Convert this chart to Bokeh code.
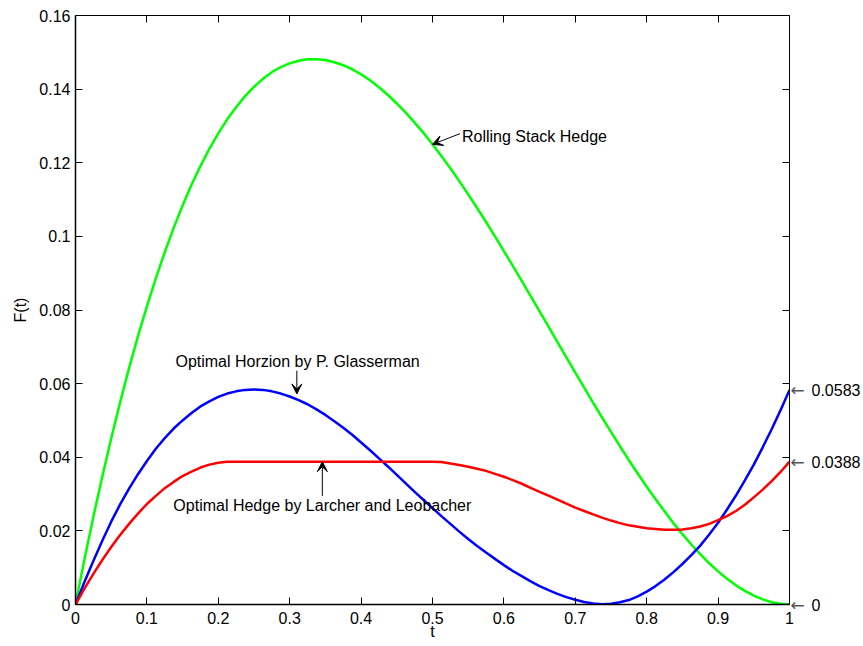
from bokeh.plotting import figure
from bokeh.models import LinearAxis, FixedTicker, Range1d, Label, Arrow, VeeHead
from bokeh.embed import file_html
from bokeh.resources import INLINE

# time grid
t = [0.0, 0.0125, 0.025, 0.0375, 0.05, 0.0625, 0.075, 0.0875, 0.1, 0.1125,
     0.125, 0.1375, 0.15, 0.1625, 0.175, 0.1875, 0.2, 0.2125, 0.225, 0.2375,
     0.25, 0.2625, 0.275, 0.2875, 0.3, 0.3125, 0.325, 0.3375, 0.35, 0.3625,
     0.375, 0.3875, 0.4, 0.4125, 0.425, 0.4375, 0.45, 0.4625, 0.475, 0.4875,
     0.5, 0.5125, 0.525, 0.5375, 0.55, 0.5625, 0.575, 0.5875, 0.6, 0.6125,
     0.625, 0.6375, 0.65, 0.6625, 0.675, 0.6875, 0.7, 0.7125, 0.725, 0.7375,
     0.75, 0.7625, 0.775, 0.7875, 0.8, 0.8125, 0.825, 0.8375, 0.85, 0.8625,
     0.875, 0.8875, 0.9, 0.9125, 0.925, 0.9375, 0.95, 0.9625, 0.975, 0.9875, 1.0]

# Rolling stack hedge
rolling = [0.0, 0.0122, 0.0238, 0.0347, 0.0451, 0.0549, 0.0642, 0.0729, 0.0810, 0.0886,
           0.0957, 0.1023, 0.1084, 0.1140, 0.1191, 0.1238, 0.1280, 0.1318, 0.1351, 0.1381,
           0.1406, 0.1428, 0.1446, 0.1460, 0.1470, 0.1477, 0.1481, 0.1481, 0.1479, 0.1473,
           0.1465, 0.1454, 0.1440, 0.1424, 0.1405, 0.1384, 0.1361, 0.1336, 0.1309, 0.1281,
           0.1250, 0.1218, 0.1185, 0.1150, 0.1114, 0.1077, 0.1039, 0.1000, 0.0960, 0.0920,
           0.0879, 0.0838, 0.0796, 0.0755, 0.0713, 0.0671, 0.0630, 0.0589, 0.0548, 0.0508,
           0.0469, 0.0430, 0.0392, 0.0356, 0.0320, 0.0286, 0.0253, 0.0221, 0.0191, 0.0163,
           0.0137, 0.0112, 0.0090, 0.0070, 0.0052, 0.0037, 0.0024, 0.0014, 0.0006, 0.0002, 0.0]

# Optimal horizon (Glasserman)
glasserman = [0.0, 0.0061, 0.0118, 0.0173, 0.0225, 0.0272, 0.0315, 0.0354, 0.0390, 0.0423,
              0.0452, 0.0478, 0.0500, 0.0520, 0.0538, 0.0552, 0.0564, 0.0573, 0.0579, 0.0583,
              0.0584, 0.0583, 0.0579, 0.0573, 0.0565, 0.0555, 0.0544, 0.0530, 0.0515, 0.0498,
              0.0480, 0.0461, 0.0440, 0.0419, 0.0397, 0.0375, 0.0352, 0.0329, 0.0306, 0.0284,
              0.0262, 0.0240, 0.0219, 0.0198, 0.0178, 0.0159, 0.0141, 0.0124, 0.0107, 0.0091,
              0.0077, 0.0063, 0.0050, 0.0039, 0.0029, 0.0020, 0.0013, 0.0007, 0.0003, 0.0001,
              0.0002, 0.0006, 0.0012, 0.0022, 0.0035, 0.0050, 0.0068, 0.0088, 0.0110, 0.0134,
              0.0160, 0.0190, 0.0222, 0.0258, 0.0296, 0.0337, 0.0380, 0.0427, 0.0476, 0.0528, 0.0583]

# Optimal hedge (Larcher and Leobacher)
larcher = [0.0, 0.0043, 0.0083, 0.0121, 0.0156, 0.0189, 0.0219, 0.0247, 0.0273, 0.0295,
           0.0316, 0.0333, 0.0349, 0.0361, 0.0372, 0.0380, 0.0385, 0.0388, 0.0388, 0.0388,
           0.0388, 0.0388, 0.0388, 0.0388, 0.0388, 0.0388, 0.0388, 0.0388, 0.0388, 0.0388,
           0.0388, 0.0388, 0.0388, 0.0388, 0.0388, 0.0388, 0.0388, 0.0388, 0.0388, 0.0388,
           0.0388, 0.0387, 0.0383, 0.0379, 0.0374, 0.0369, 0.0363, 0.0355, 0.0347, 0.0338,
           0.0328, 0.0317, 0.0306, 0.0296, 0.0285, 0.0274, 0.0263, 0.0254, 0.0245, 0.0236,
           0.0228, 0.0221, 0.0215, 0.0211, 0.0207, 0.0205, 0.0203, 0.0203, 0.0204, 0.0207,
           0.0212, 0.0219, 0.0229, 0.0240, 0.0254, 0.0271, 0.0291, 0.0312, 0.0335, 0.0360, 0.0388]

x_ticks = [0.0, 0.1, 0.2, 0.3, 0.4, 0.5, 0.6, 0.7, 0.8, 0.9, 1.0]
x_tick_labels = ["0", "0.1", "0.2", "0.3", "0.4", "0.5", "0.6", "0.7", "0.8", "0.9", "1"]
y_ticks = [0.0, 0.02, 0.04, 0.06, 0.08, 0.1, 0.12, 0.14, 0.16]
y_tick_labels = ["0", "0.02", "0.04", "0.06", "0.08", "0.1", "0.12", "0.14", "0.16"]

FONT = "Liberation Sans"
FS = "16px"

p = figure(width=863, height=646, output_backend="svg", toolbar_location=None,
           x_range=Range1d(0, 1), y_range=Range1d(0, 0.16),
           min_border_left=75, min_border_right=73, min_border_top=15, min_border_bottom=42,
           x_axis_label="t", y_axis_label="F(t)")
p.grid.visible = False
p.outline_line_color = None
p.background_fill_color = "white"
p.border_fill_color = "white"


def base_style(ax):
    ax.major_tick_out = 0
    ax.minor_tick_out = 0
    ax.axis_line_color = "black"
    ax.major_tick_line_color = "black"
    ax.minor_tick_line_color = "black"
    ax.major_label_text_font = FONT
    ax.major_label_text_font_size = FS
    ax.major_label_text_color = "black"
    ax.axis_label_text_font = FONT
    ax.axis_label_text_font_size = FS
    ax.axis_label_text_font_style = "normal"
    ax.axis_label_text_color = "black"


# bottom and left: labelled axes with inward ticks
for ax, ticks, labels in ((p.below[0], x_ticks, x_tick_labels), (p.left[0], y_ticks, y_tick_labels)):
    base_style(ax)
    ax.ticker = FixedTicker(ticks=ticks)
    ax.major_label_overrides = dict(zip(ticks, labels))
    ax.major_tick_in = 7
    ax.minor_tick_in = 0
    ax.axis_line_width = 1.5

p.below[0].major_label_standoff = 7
p.below[0].axis_label_standoff = -4
p.left[0].major_label_standoff = 5
p.left[0].axis_label_standoff = 7

# top: box edge with tick marks only
top = LinearAxis(ticker=FixedTicker(ticks=[], minor_ticks=x_ticks))
base_style(top)
top.major_tick_in = 0
top.minor_tick_in = 7
p.add_layout(top, "above")

# right: box edge with tick marks and an arrow at the end value of each curve
end_values = [glasserman[-1], larcher[-1], rolling[-1]]
right = LinearAxis(ticker=FixedTicker(ticks=end_values, minor_ticks=y_ticks))
base_style(right)
right.major_tick_in = 0
right.minor_tick_in = 7
right.major_label_standoff = 1
right.major_label_text_font = "DejaVu Sans"
right.major_label_text_font_size = "17px"
right.major_label_text_color = "#555555"
right.major_label_overrides = {v: "\u2190" for v in end_values}
p.add_layout(right, "right")

# outer right: the end values as text
values_axis = LinearAxis(ticker=FixedTicker(ticks=end_values))
base_style(values_axis)
values_axis.axis_line_color = None
values_axis.major_tick_line_color = None
values_axis.major_tick_in = 0
values_axis.major_label_standoff = 4
values_axis.major_label_overrides = {v: "%g" % v for v in end_values}
p.add_layout(values_axis, "right")

LW = 2.5
p.line(t, rolling, line_color="#00ff00", line_width=LW)
p.line(t, glasserman, line_color="#0000ff", line_width=LW)
p.line(t, larcher, line_color="#ff0000", line_width=LW)


def note(x, y, text, align, baseline, x_off=0, y_off=0):
    p.add_layout(Label(x=x, y=y, text=text, text_align=align, text_baseline=baseline,
                       x_offset=x_off, y_offset=y_off,
                       text_font=FONT, text_font_size=FS, text_color="black"))


def pointer(x0, y0, x1, y1):
    p.add_layout(Arrow(x_start=x0, y_start=y0, x_end=x1, y_end=y1, line_width=1,
                       line_color="black",
                       end=VeeHead(size=10, fill_color="black", line_color="black",
                                   line_width=1)))


# curve annotations
pointer(0.5385, 0.1279, t[40], rolling[40])
note(0.5385, 0.1279, "Rolling Stack Hedge", "left", "middle", x_off=2, y_off=-3)

pointer(0.31, 0.0635, 0.31, 0.0572)
note(0.311, 0.0635, "Optimal Horzion by P. Glasserman", "center", "bottom", y_off=1)

pointer(0.3457, 0.0295, 0.3457, larcher[28])
note(0.3457, 0.0295, "Optimal Hedge by Larcher and Leobacher", "center", "top", y_off=-1)

open("out.html", "w").write(file_html(p, INLINE))
